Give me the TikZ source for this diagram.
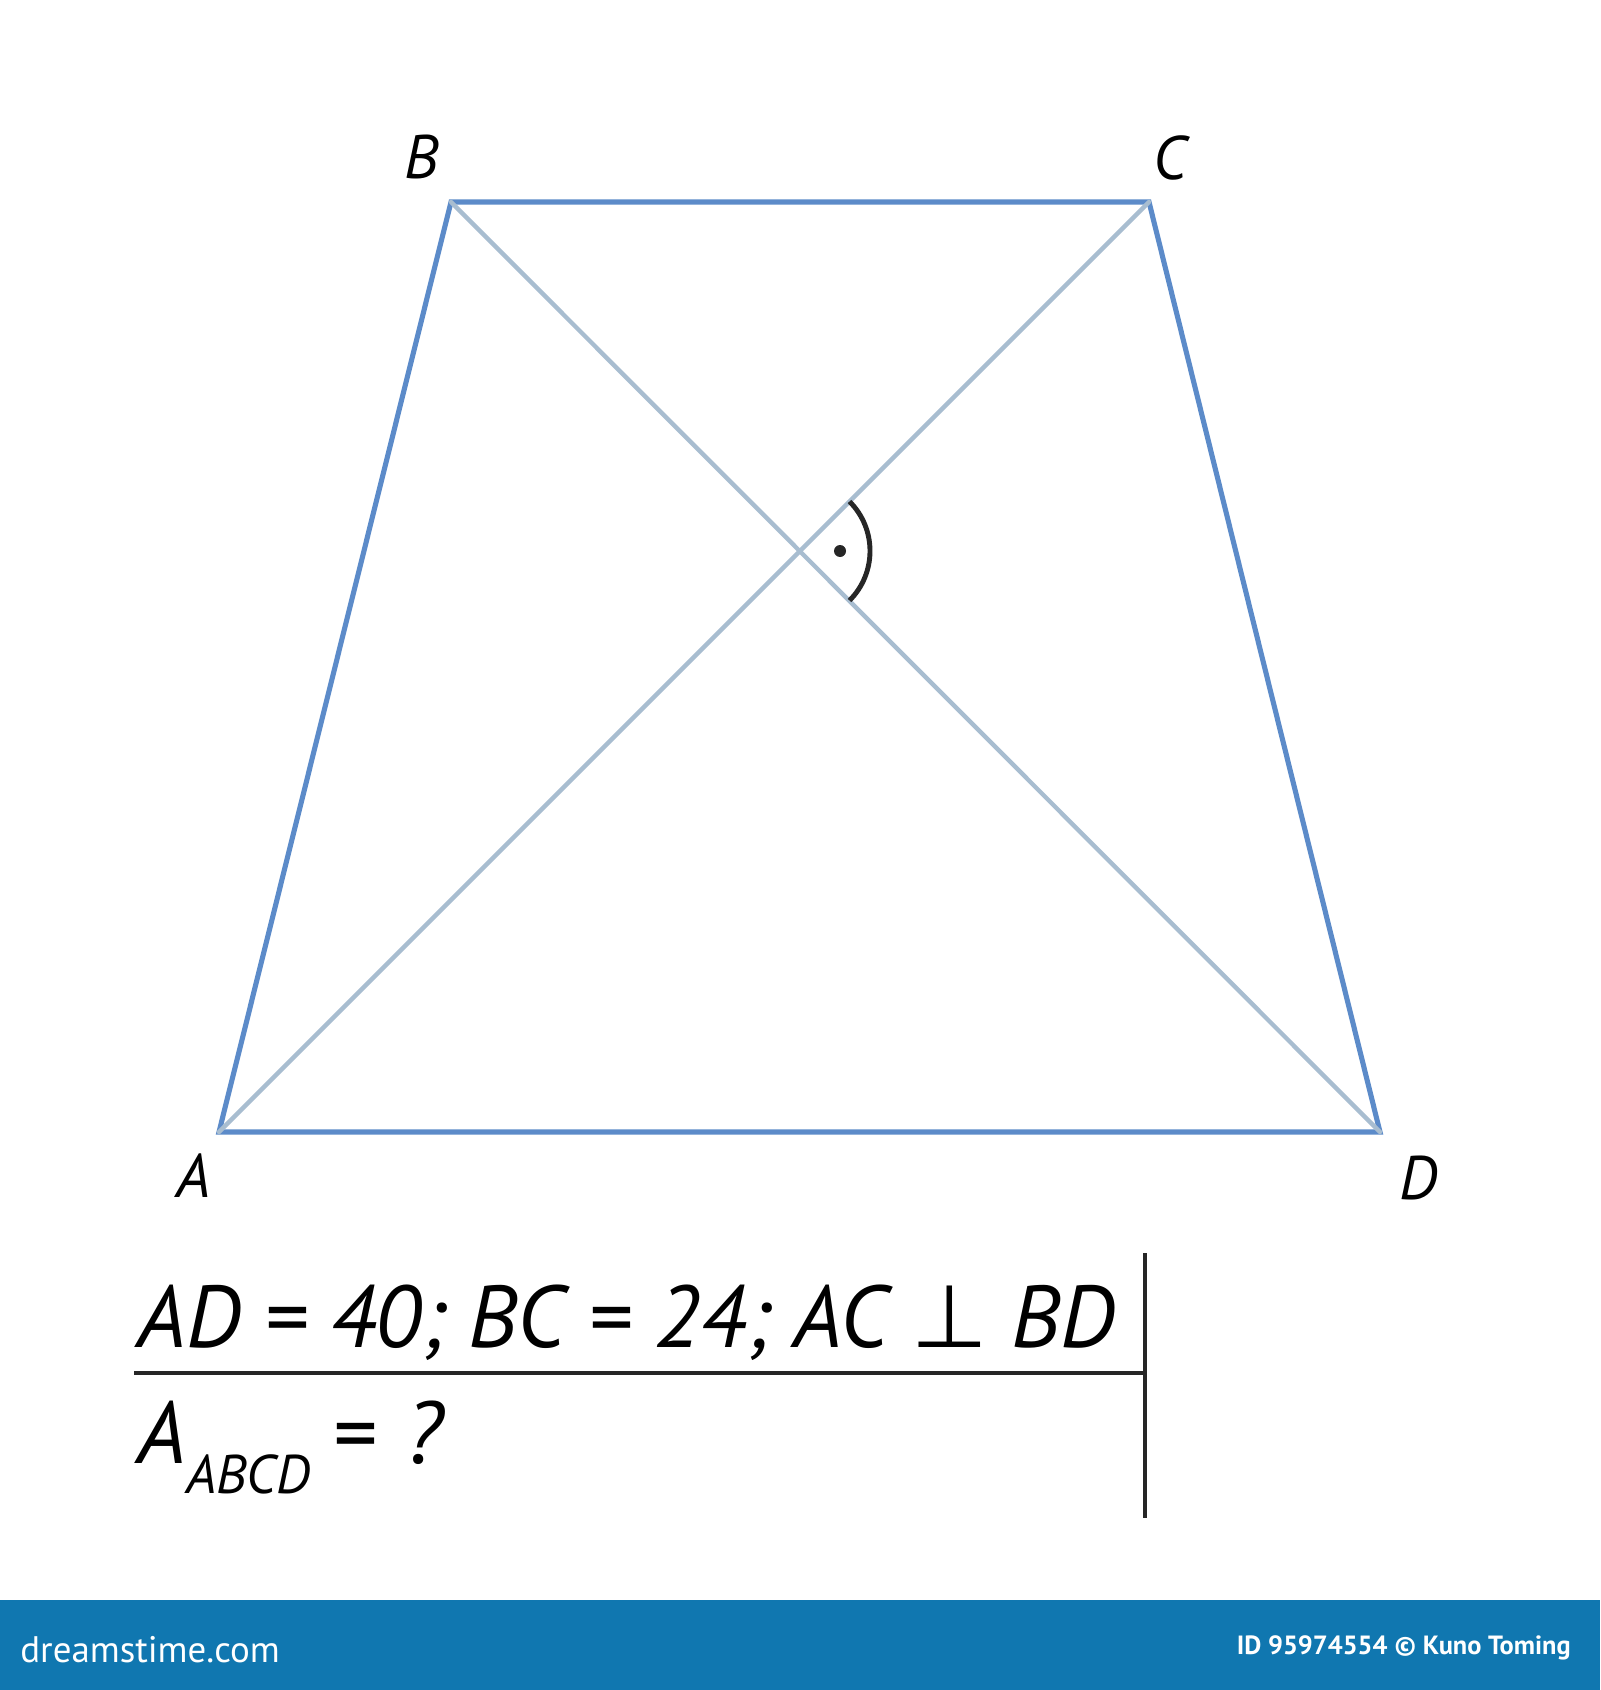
\documentclass[tikz,border=0pt]{standalone}
\usepackage{fontspec}
\setmainfont{PT Sans}
\newfontfamily\symfont{DejaVu Sans}
\definecolor{sideblue}{RGB}{92,139,201}
\definecolor{diaggray}{RGB}{168,189,208}
\definecolor{bannerblue}{RGB}{16,119,176}
\begin{document}
\begin{tikzpicture}[
  x=0.2mm, y=-0.2mm,
  side/.style={draw=sideblue, line width=2.9pt, line join=miter},
  diag/.style={draw=diaggray, line width=2.5pt, line cap=round},
  vlabel/.style={inner sep=0pt, font=\fontsize{35}{40}\selectfont\itshape},
  eqtext/.style={inner sep=0pt, anchor=base west, font=\fontsize{50}{56}\selectfont\itshape},
  rule/.style={draw=black!85, line width=2.4pt},
  bannertext/.style={inner sep=0pt, text=white},
]
  \useasboundingbox[fill=white] (0,0) rectangle (1600,1690);

  \coordinate (A) at (219,1132);
  \coordinate (B) at (451,202);
  \coordinate (C) at (1149,202);
  \coordinate (D) at (1380,1132);
  \coordinate (O) at (800,551);

  \draw[side] (A) -- (B) -- (C) -- (D) -- cycle;
  \draw[diag] (A) -- (C);
  \draw[diag] (B) -- (D);

  \draw[black!85, line width=2.8pt] (O) ++(-45:70) arc[start angle=-45, end angle=45, radius=70];
  \fill[black!85] (O) ++(40,0) circle (6);

  \node[vlabel] (lA) at (194,1176) {A};
  \node[vlabel] (lB) at (422,157) {B};
  \node[vlabel] (lC) at (1170,158) {C};
  \node[vlabel] (lD) at (1419,1178) {D};

  \node[eqtext] (given) at (137,1347) {AD = 40; BC = 24; AC {\symfont\upshape ⊥} BD};
  \node[eqtext] (find) at (137,1463) {A\raisebox{-6mm}{\fontsize{31}{34}\selectfont ABCD}\hspace{4.5mm}= \hspace{1.5mm}?};
  \coordinate (top) at (1145,1253);
  \coordinate (bottom) at (1145,1518);
  \coordinate (ruleleft) at (134,1373);
  \draw[rule] (top) -- (bottom);
  \draw[rule] (ruleleft) -- (ruleleft -| top);

  \fill[bannerblue] (0,1600) rectangle (1600,1690);
  \node[bannertext, anchor=west, font=\fontsize{21}{24}\selectfont] (site) at (20,1650) {dreamstime.com};
  \node[bannertext, anchor=east, font=\fontsize{15}{18}\selectfont\bfseries] (credit) at (1571,1648) {ID 95974554 © Kuno Toming};
\end{tikzpicture}
\end{document}
